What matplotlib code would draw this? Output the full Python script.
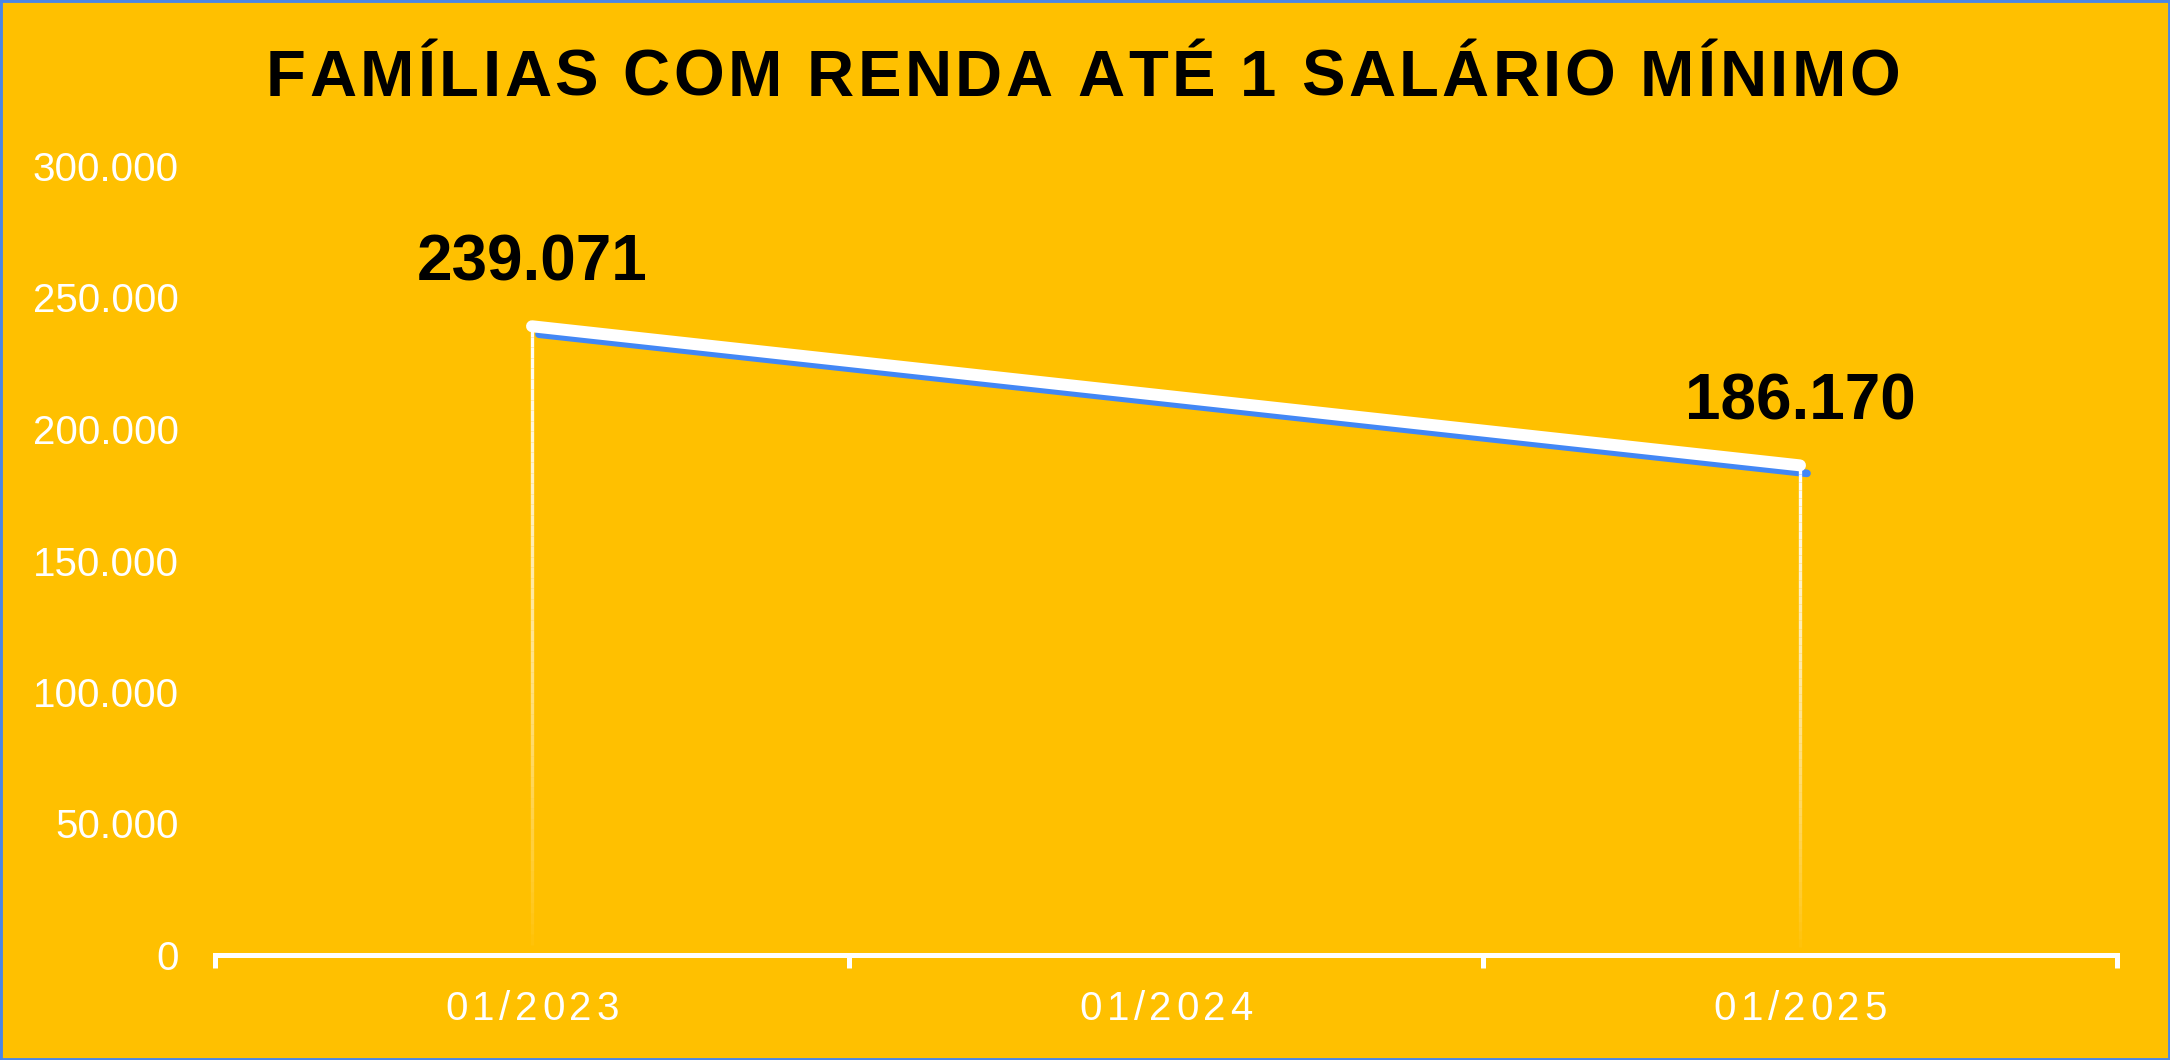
import numpy as np
import matplotlib
matplotlib.use('Agg')
import matplotlib.pyplot as plt
from matplotlib.collections import LineCollection
from matplotlib.patches import Rectangle
from matplotlib.transforms import offset_copy

'''
familias com renda ate 1 salario minimo
'''
TITLE = 'FAMÍLIAS COM RENDA ATÉ 1 SALÁRIO MÍNIMO'
CATEGORIES = ['01/2023', '01/2024', '01/2025']
VALUES = [239071, None, 186170]
Y_TICKS = [0, 50000, 100000, 150000, 200000, 250000, 300000]

BG = '#FFC000'
BLUE = '#4287F5'
W, H = 2170, 1060
FONT = 'Liberation Sans'


def fmt(v):
    return '{:,}'.format(v).replace(',', '.')


def spaced_text(fig, x_px, y_px, s, spacing, **kw):
    # draw letter-spaced text centered on x_px, baseline at y_px (image coords)
    r = fig.canvas.get_renderer()
    widths = []
    for ch in s:
        t = fig.text(0, 0, ch, **kw)
        widths.append(t.get_window_extent(r).width)
        t.remove()
    total = sum(widths) + spacing * (len(s) - 1)
    x = x_px - total / 2
    for ch, w in zip(s, widths):
        fig.text(x / W, 1 - y_px / H, ch, ha='left', va='baseline', **kw)
        x += w + spacing


fig = plt.figure(figsize=(W / 100, H / 100), dpi=100, facecolor=BG)
ax = fig.add_axes([215 / W, 1 - 955 / H, (2117 - 215) / W, (955 - 166) / H])
ax.set_facecolor(BG)

xs = [i for i, v in enumerate(VALUES) if v is not None]
ys = [v for v in VALUES if v is not None]

# blue shadow under the line
shadow = offset_copy(ax.transData, fig=fig, x=7, y=-8, units='dots')
ax.plot(xs, ys, color=BLUE, lw=5.5, solid_capstyle='round', transform=shadow,
        clip_on=False, zorder=2)

# fading drop lines
n = 60
for x, y in zip(xs, ys):
    yy = np.linspace(y, 0, n + 1)
    segs = [[(x, yy[k]), (x, yy[k + 1])] for k in range(n)]
    alphas = np.linspace(1.0, 0.0, n) ** 0.8
    cols = [(1, 1, 1, a) for a in alphas]
    ax.add_collection(LineCollection(segs, colors=cols, linewidths=2.4, zorder=3))

ax.plot(xs, ys, color='white', lw=8.6, solid_capstyle='round', clip_on=False, zorder=4)

for x, y in zip(xs, ys):
    ax.annotate(fmt(y), (x, y), xytext=(0, 45), textcoords='offset points',
                ha='center', va='center', fontsize=46, fontweight='bold',
                family=FONT, color='black', zorder=5)

ax.set_xlim(-0.5, len(CATEGORIES) - 0.5)
ax.set_ylim(0, 300000)
for side in ['left', 'right', 'top']:
    ax.spines[side].set_visible(False)
ax.spines['bottom'].set_color('white')
ax.spines['bottom'].set_linewidth(3.6)
ax.spines['bottom'].set_capstyle('projecting')

ax.set_yticks(Y_TICKS)
ax.set_yticklabels([fmt(v) for v in Y_TICKS])
ax.tick_params(axis='y', length=0, pad=26, labelcolor='white', labelsize=29)
for lab in ax.get_yticklabels():
    lab.set_family(FONT)

ax.set_xticks(range(len(CATEGORIES)))
ax.set_xticklabels([''] * len(CATEGORIES))
ax.set_xticks(np.arange(-0.5, len(CATEGORIES)), minor=True)
ax.tick_params(axis='x', which='major', length=0)
ax.tick_params(axis='x', which='minor', length=9, width=3.6, color='white', direction='out')

# letter spaced category labels
fig.canvas.draw()
for i, c in enumerate(CATEGORIES):
    px = ax.transData.transform((i, 0))[0]
    spaced_text(fig, px, 1020, c, 4.6, fontsize=29, family=FONT, color='white')

spaced_text(fig, W / 2 - 2, 96, TITLE, 3.4, fontsize=47, fontweight='bold',
            family=FONT, color='black')

fig.patches.append(Rectangle((0, 0), 1, 1, transform=fig.transFigure, fill=False,
                             edgecolor='#4A86E8', lw=3.5, clip_on=False))

fig.savefig('out.png', dpi=100, facecolor=BG)
